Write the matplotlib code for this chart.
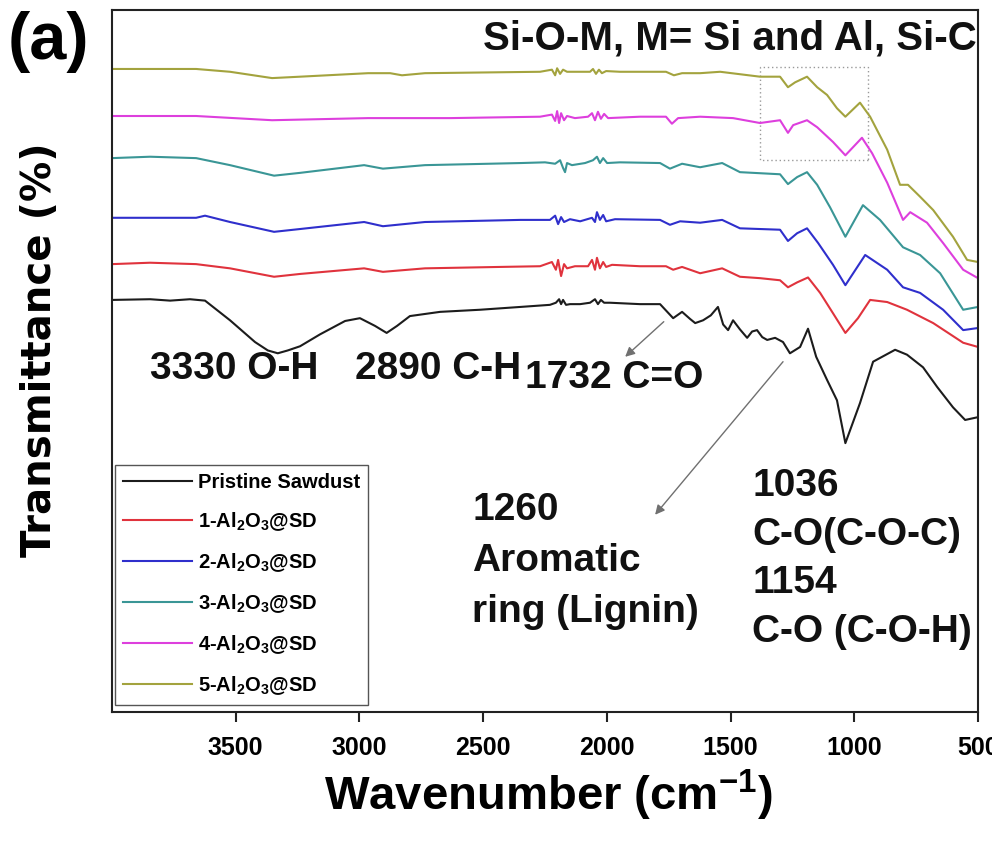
import matplotlib
matplotlib.use("Agg")
import matplotlib.pyplot as plt
from matplotlib import font_manager as fm
from matplotlib.patches import Rectangle

# ---------------- data: FTIR spectra (wavenumber in cm-1, transmittance %) ----------------
wn_sd = [4000, 3846, 3765, 3685, 3624, 3523, 3422, 3370, 3330, 3290, 3240, 3159, 3058, 2998,
         2937, 2890, 2848, 2796, 2674, 2513, 2350, 2230, 2206, 2193, 2185, 2177, 2165, 2149,
         2108, 2068, 2048, 2036, 2024, 2011, 1987, 1866, 1785, 1732, 1696, 1664, 1643, 1611,
         1580, 1551, 1530, 1510, 1490, 1462, 1433, 1413, 1393, 1372, 1352, 1320, 1288, 1260,
         1219, 1187, 1154, 1110, 1070, 1036, 977, 924, 835, 787, 722, 665, 601, 552, 500]
tr_sd = [58.7, 58.8, 58.6, 58.8, 58.6, 55.8, 52.7, 51.5, 51.1, 51.5, 52.1, 53.8, 55.7, 56.1,
         55.0, 54.0, 55.0, 56.4, 57.0, 57.3, 57.7, 58.0, 58.3, 58.8, 58.1, 58.7, 58.0, 58.1,
         58.1, 58.3, 58.8, 58.1, 58.7, 58.3, 58.3, 58.1, 58.1, 56.1, 57.0, 56.0, 55.4, 55.8,
         56.5, 57.7, 55.2, 54.4, 55.8, 54.5, 53.3, 54.2, 54.4, 53.4, 53.0, 53.3, 52.7, 51.1,
         52.0, 54.6, 50.6, 47.3, 44.4, 38.3, 44.0, 49.9, 51.6, 50.9, 49.1, 46.3, 43.4, 41.6, 42.0]

wn_1 = [4000, 3846, 3660, 3523, 3345, 3240, 2981, 2905, 2735, 2432, 2270, 2222, 2206, 2197,
        2185, 2173, 2161, 2129, 2076, 2060, 2048, 2040, 2028, 2015, 2003, 1979, 1866, 1761,
        1732, 1696, 1623, 1534, 1462, 1381, 1300, 1268, 1231, 1187, 1138, 1086, 1036, 985,
        936, 867, 787, 681, 560, 500]
tr_1 = [63.8, 64.0, 63.8, 63.2, 62.0, 62.4, 63.2, 62.7, 63.2, 63.4, 63.5, 64.1, 63.0, 64.4,
        62.1, 63.8, 63.2, 63.5, 63.5, 64.4, 63.0, 64.7, 63.2, 64.1, 63.4, 63.7, 63.5, 63.5,
        63.0, 63.4, 62.5, 63.2, 62.0, 61.8, 61.5, 60.5, 61.2, 61.9, 59.7, 56.8, 54.0, 56.1,
        58.7, 58.4, 57.3, 55.4, 52.6, 52.0]

wn_2 = [4000, 3660, 3624, 3523, 3345, 3240, 2981, 2905, 2735, 2350, 2230, 2209, 2197, 2185,
        2173, 2149, 2108, 2060, 2048, 2040, 2028, 2015, 2003, 1967, 1785, 1745, 1704, 1623,
        1534, 1462, 1300, 1268, 1231, 1191, 1146, 1086, 1036, 956, 867, 803, 734, 641, 560, 500]
tr_2 = [70.4, 70.4, 70.7, 69.8, 68.4, 68.8, 69.8, 69.2, 69.8, 70.1, 70.1, 70.7, 69.5, 70.5,
        69.8, 70.2, 69.9, 70.4, 69.8, 71.2, 70.1, 70.8, 69.9, 70.2, 70.1, 69.4, 69.9, 69.7,
        70.1, 68.9, 68.7, 67.1, 68.2, 68.9, 66.8, 63.7, 60.8, 65.1, 63.0, 60.5, 59.7, 57.3,
        54.4, 54.7]

wn_3 = [4000, 3846, 3660, 3523, 3345, 3240, 2981, 2905, 2735, 2347, 2250, 2209, 2189, 2177,
        2169, 2161, 2141, 2088, 2056, 2040, 2028, 2015, 1999, 1947, 1785, 1745, 1696, 1623,
        1534, 1462, 1300, 1268, 1231, 1191, 1150, 1098, 1036, 965, 896, 803, 734, 653, 560, 500]
tr_3 = [78.9, 79.1, 78.9, 77.9, 76.4, 76.8, 77.9, 77.4, 77.9, 78.2, 78.3, 78.1, 78.6, 77.5,
        76.9, 78.2, 77.9, 78.2, 78.6, 79.1, 78.2, 78.9, 78.2, 78.3, 78.2, 77.4, 78.1, 77.6,
        78.2, 76.9, 76.6, 75.2, 76.2, 76.9, 75.1, 71.9, 67.7, 72.2, 70.1, 66.2, 65.1, 62.5,
        57.3, 57.7]

wn_4 = [4000, 3660, 3353, 2965, 2634, 2270, 2222, 2209, 2201, 2193, 2185, 2173, 2161, 2129,
        2076, 2060, 2048, 2036, 2024, 2011, 1995, 1866, 1761, 1737, 1712, 1623, 1490, 1381,
        1300, 1268, 1247, 1191, 1150, 1086, 1036, 969, 928, 867, 803, 774, 706, 641, 560, 500]
tr_4 = [84.9, 84.9, 84.3, 84.6, 84.6, 84.8, 85.1, 84.2, 85.6, 83.9, 85.3, 84.3, 84.9, 84.6,
        84.8, 85.3, 84.3, 85.5, 84.5, 85.2, 84.6, 84.8, 84.8, 83.8, 84.6, 84.8, 84.6, 83.9,
        84.3, 82.5, 83.6, 84.3, 83.3, 81.2, 79.3, 81.8, 79.6, 75.4, 70.1, 71.2, 69.7, 66.8,
        63.0, 61.8]

wn_5 = [4000, 3660, 3523, 3353, 3240, 2965, 2876, 2828, 2735, 2270, 2222, 2209, 2201, 2189,
        2177, 2161, 2068, 2056, 2044, 2032, 2020, 2003, 1947, 1761, 1729, 1696, 1623, 1542,
        1381, 1300, 1268, 1239, 1191, 1150, 1110, 1070, 1036, 977, 936, 867, 815, 783, 734,
        681, 601, 544, 500]
tr_5 = [91.6, 91.6, 91.2, 90.3, 90.5, 91.0, 91.0, 90.7, 91.0, 91.2, 91.5, 90.7, 91.7, 90.9,
        91.5, 91.2, 91.2, 91.6, 90.9, 91.5, 91.0, 91.3, 91.2, 91.2, 90.7, 91.0, 91.0, 91.2,
        90.5, 90.5, 89.0, 89.7, 90.5, 89.0, 87.9, 86.0, 84.8, 86.8, 84.8, 80.1, 75.1, 75.1,
        73.4, 71.5, 67.7, 64.4, 64.1]

series_labels = ["Pristine Sawdust", r"1-Al$_2$O$_3$@SD", r"2-Al$_2$O$_3$@SD",
                 r"3-Al$_2$O$_3$@SD", r"4-Al$_2$O$_3$@SD", r"5-Al$_2$O$_3$@SD"]
series_wn = [wn_sd, wn_1, wn_2, wn_3, wn_4, wn_5]
series_tr = [tr_sd, tr_1, tr_2, tr_3, tr_4, tr_5]
series_colors = ["#1c1c1c", "#e0333d", "#2f2fcc", "#3a9696", "#dd3fdd", "#a3a33e"]

x_ticks = [3500, 3000, 2500, 2000, 1500, 1000, 500]

# ---------------- fonts ----------------
installed = {f.name for f in fm.fontManager.ttflist}
NARROW = "Liberation Sans Narrow" if "Liberation Sans Narrow" in installed else "Liberation Sans"
narrow_ok = NARROW == "Liberation Sans Narrow"
plt.rcParams["mathtext.default"] = "regular"
plt.rcParams["font.family"] = ["Liberation Sans", "DejaVu Sans"]
plt.rcParams["font.weight"] = "bold"

# ---------------- figure ----------------
fig = plt.figure(figsize=(9.92, 8.43), dpi=100)
ax = fig.add_axes([112 / 992, 131 / 843, 866 / 992, 702 / 843])

for wn, tr, lab, col in zip(series_wn, series_tr, series_labels, series_colors):
    ax.plot(wn, tr, color=col, lw=1.5, label=lab, solid_joinstyle="round")

ax.set_xlim(4000, 500)
ax.set_ylim(0, 100)
ax.set_yticks([])
ax.set_xticks(x_ticks)
ax.set_xticklabels([str(t) for t in x_ticks], family=NARROW, weight="bold",
                   size=22 if narrow_ok else 18)
ax.tick_params(axis="x", direction="out", length=7, width=1.5, pad=10, color="#222222")
for sp in ax.spines.values():
    sp.set_linewidth(1.5)
    sp.set_color("#222222")

# dotted box around the Si-O-M region
ax.add_patch(Rectangle((944, 78.6), 1381 - 944, 91.9 - 78.6, fill=False,
                       ls=(0, (1, 2)), lw=1.0, ec="#999999"))

# band assignments
ann = dict(size=28, weight="bold", color="#111111", va="center")
ax.text(505, 96.0, "Si-O-M, M= Si and Al, Si-C", ha="right",
        **{**ann, "size": 29})
ax.text(3846, 48.9, "3330 O-H", ha="left", **ann)
ax.text(3018, 48.9, "2890 C-H", ha="left", **ann)
ax.text(2330, 47.6, "1732 C=O", ha="left", **ann)
for y, s in zip([28.8, 21.5, 14.2], ["1260", "Aromatic", "ring (Lignin)"]):
    ax.text(2545, y, s, ha="left", **ann)
for y, s in zip([32.2, 25.2, 18.4, 11.4], ["1036", "C-O(C-O-C)", "1154", "C-O (C-O-H)"]):
    ax.text(1413, y, s, ha="left", **ann)

arrow = dict(arrowstyle="-|>", color="#707070", lw=1.0, mutation_scale=14,
             shrinkA=0, shrinkB=0)
ax.annotate("", xy=(1926, 50.6), xytext=(1770, 55.6), arrowprops=arrow)
ax.annotate("", xy=(1805, 28.1), xytext=(1288, 49.9), arrowprops=arrow)

leg = ax.legend(loc="lower left", bbox_to_anchor=(0.0035, 0.01), borderaxespad=0,
                prop=dict(family=NARROW, weight="bold", size=17.5 if narrow_ok else 14.5),
                handlelength=3.4, handletextpad=0.3, labelspacing=0.9,
                borderpad=0.4, fancybox=False, framealpha=1)
leg.get_frame().set_edgecolor("#555555")
leg.get_frame().set_linewidth(1.0)
for line in leg.get_lines():
    line.set_linewidth(1.5)

# axis titles and panel tag
fig.text(40 / 992, 1 - 350 / 843, "Transmittance (%)", rotation=90, ha="center",
         va="center", family="DejaVu Sans", weight="bold", size=29)
fig.text(548 / 992, 1 - 795 / 843, r"Wavenumber (cm$^{-1}$)", ha="center", va="center",
         family=NARROW, weight="bold", size=39 if narrow_ok else 34)
fig.text(8 / 992, 1 - 42 / 843, "(a)", ha="left", va="center", weight="bold", size=48)

fig.savefig("out.png", dpi=100)
